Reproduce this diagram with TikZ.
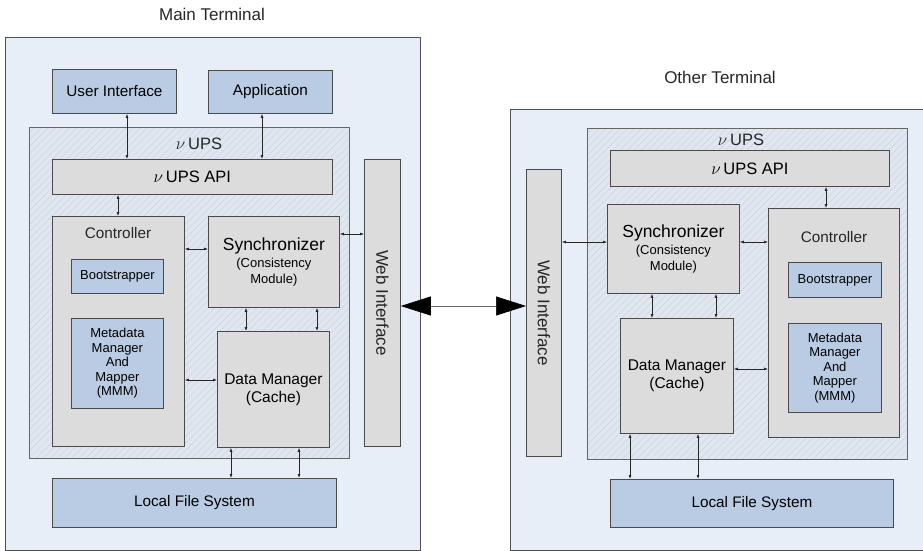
\documentclass[tikz,border=0pt]{standalone}
\usepackage{fontspec}
\setmainfont{Liberation Sans}
\usetikzlibrary{arrows.meta,patterns.meta}
\definecolor{termfill}{HTML}{E8EEF7}
\definecolor{termline}{HTML}{505050}
\definecolor{bluefill}{HTML}{B9CCE4}
\definecolor{grayfill}{HTML}{DCDCDC}
\definecolor{upsfill}{HTML}{E1E7F1}
\definecolor{hatch}{HTML}{CAD2DE}
\definecolor{boxline}{HTML}{4A4A4A}
\tikzset{
  term/.style={draw=termline, line width=0.9pt, fill=termfill},
  ups/.style={fill=upsfill, postaction={pattern={Lines[angle=45,distance=5pt,line width=0.5pt]}, pattern color=hatch}, postaction={draw=boxline!85, line width=0.9pt}},
  bbox/.style={draw=boxline, line width=0.8pt, fill=bluefill, inner sep=0pt, align=center, anchor=north west},
  gbox/.style={draw=boxline, line width=0.8pt, fill=grayfill, inner sep=0pt, align=center, anchor=north west},
  dbl/.style={{Latex[length=4pt,width=3pt]}-{Latex[length=4pt,width=3pt]}, line width=0.6pt, black!85},
  big/.style={{Triangle[length=30pt,width=19pt,color=black]}-{Triangle[length=30pt,width=19pt,color=black]}, line width=0.7pt, black!60},
  lbl/.style={inner sep=0pt, text=black!85},
}
\newcommand{\fs}[1]{\fontsize{#1}{#1}\selectfont}
\begin{document}
\begin{tikzpicture}[x=1pt,y=-1pt]
\useasboundingbox (0,0) rectangle (923,551);
\clip (0,0) rectangle (923,551);
% ---------- Main terminal ----------
\node[lbl, font=\fs{17}] (mtitle) at (212,14) {Main Terminal};
\path[term] (5,37) rectangle (420,550);
\path[ups] (29,127) rectangle (349,458);
\node[lbl, font=\fs{16.5}] (mups) at (199,144) {$\nu$\,UPS};
\node[bbox, minimum width=124pt, minimum height=44pt, font=\fs{15.3}] (mui) at (52,69) {User Interface};
\node[bbox, minimum width=124pt, minimum height=43pt, font=\fs{15.3}] (mapp) at (208,70) {Application};
\node[gbox, minimum width=280pt, minimum height=35pt, font=\fs{16.5}] (mapi) at (52,159) {$\nu$\,UPS API};
\node[gbox, minimum width=132pt, minimum height=230pt] (mctl) at (52,216) {};
\node[lbl, font=\fs{15.3}] (mctllbl) at (118,233) {Controller};
\node[bbox, minimum width=92pt, minimum height=34pt, font=\fs{13}] (mboot) at (71,259) {Bootstrapper};
\node[bbox, minimum width=92pt, minimum height=90pt, font=\fs{13}] (mmmm) at (71,318) {Metadata\\[1.5pt]Manager\\[1.5pt]And\\[1.5pt]Mapper\\[1.5pt](MMM)};
\node[gbox, minimum width=131pt, minimum height=91pt] (msync) at (208,216) {{\fs{17.5}Synchronizer}\\[3pt]{\fs{13}(Consistency}\\[3pt]{\fs{13}Module)}};
\node[gbox, minimum width=112pt, minimum height=116pt, font=\fs{15.5}] (mdm) at (217,331) {Data Manager\\[2.5pt](Cache)};
\node[gbox, minimum width=36pt, minimum height=287pt] (mweb) at (364,159) {};
\node[lbl, rotate=-90, font=\fs{17}] (mweblbl) at (mweb.center) {Web Interface};
\node[bbox, minimum width=284pt, minimum height=49pt, font=\fs{15.3}] (mlfs) at (52,478) {Local File System};
% arrows main
\draw[dbl] (127,0 |- mui.south) -- (127,0 |- mapi.north);
\draw[dbl] (262,0 |- mapp.south) -- (262,0 |- mapi.north);
\draw[dbl] (118,0 |- mapi.south) -- (118,0 |- mctl.north);
\draw[dbl] (mctl.east |- 0,249) -- (msync.west |- 0,249);
\draw[dbl] (msync.east |- 0,234) -- (mweb.west |- 0,234);
\draw[dbl] (246,0 |- msync.south) -- (246,0 |- mdm.north);
\draw[dbl] (317,0 |- msync.south) -- (317,0 |- mdm.north);
\draw[dbl] (mctl.east |- 0,380) -- (mdm.west |- 0,380);
\draw[dbl] (231,0 |- mdm.south) -- (231,0 |- mlfs.north);
\draw[dbl] (299,0 |- mdm.south) -- (299,0 |- mlfs.north);
% ---------- Other terminal ----------
\node[lbl, font=\fs{17}] (otitle) at (720,77) {Other Terminal};
\path[term] (510,109) rectangle (935,550);
\path[ups] (587,128) rectangle (907,459);
\node[lbl, font=\fs{16.5}] (oups) at (741,140) {$\nu$\,UPS};
\node[gbox, minimum width=279pt, minimum height=36pt, font=\fs{16.5}] (oapi) at (610,150) {$\nu$\,UPS API};
\node[gbox, minimum width=35pt, minimum height=287pt] (oweb) at (526,169) {};
\node[lbl, rotate=-90, font=\fs{17}] (oweblbl) at (oweb.center) {Web Interface};
\node[gbox, minimum width=132pt, minimum height=89pt] (osync) at (607,204) {{\fs{17.5}Synchronizer}\\[3pt]{\fs{13}(Consistency}\\[3pt]{\fs{13}Module)}};
\node[gbox, minimum width=131pt, minimum height=229pt] (octl) at (768,208) {};
\node[lbl, font=\fs{15.3}] (octllbl) at (834,237) {Controller};
\node[bbox, minimum width=93pt, minimum height=35pt, font=\fs{13}] (oboot) at (788,262) {Bootstrapper};
\node[bbox, minimum width=93pt, minimum height=89pt, font=\fs{13}] (ommm) at (788,323) {Metadata\\[1.5pt]Manager\\[1.5pt]And\\[1.5pt]Mapper\\[1.5pt](MMM)};
\node[gbox, minimum width=113pt, minimum height=115pt, font=\fs{15.5}] (odm) at (620,318) {Data Manager\\[2.5pt](Cache)};
\node[bbox, minimum width=283pt, minimum height=48pt, font=\fs{15.3}] (olfs) at (610,479) {Local File System};
% arrows other
\draw[dbl] (826,0 |- oapi.south) -- (826,0 |- octl.north);
\draw[dbl] (osync.east |- 0,242) -- (octl.west |- 0,242);
\draw[dbl] (oweb.east |- 0,242) -- (osync.west |- 0,242);
\draw[dbl] (652,0 |- osync.south) -- (652,0 |- odm.north);
\draw[dbl] (716,0 |- osync.south) -- (716,0 |- odm.north);
\draw[dbl] (odm.east |- 0,369) -- (octl.west |- 0,369);
\draw[dbl] (630,0 |- odm.south) -- (630,0 |- olfs.north);
\draw[dbl] (698,0 |- odm.south) -- (698,0 |- olfs.north);
% big link
\draw[big] (mweb.east |- 0,306) -- (oweb.west |- 0,306);
\end{tikzpicture}
\end{document}
